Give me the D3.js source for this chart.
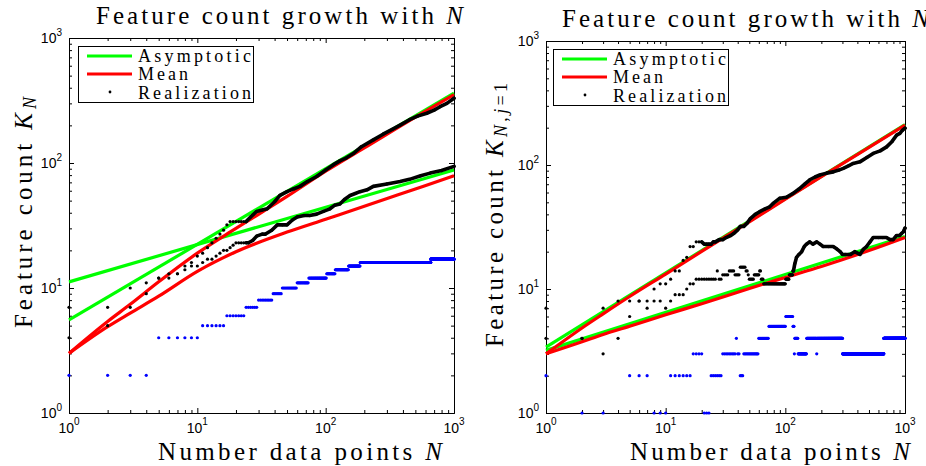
<!DOCTYPE html>
<html><head><meta charset="utf-8">
<script src="https://cdn.jsdelivr.net/npm/d3@7"></script>
<style>body{margin:0;background:#fff;} svg{display:block;}</style>
</head><body><svg id="c" width="926" height="466"></svg>
<script>
// ================= DATA =================
const decadeTicks = [1, 10, 100, 1000];
const tickExponents = ["0", "1", "2", "3"];
const legendLabels = ["Asymptotic", "Mean", "Realization"];

// ---- Left panel: K_N ----
const L_asymN  = [1, 1000];
const L_asymHi = [5.55, 363];
const L_asymLo = [11.2, 88];
const L_meanN  = [1, 2, 3, 5, 10, 20, 50, 100, 200, 500, 1000];
const L_meanHi = [3, 5.4, 7.4, 11.2, 19, 30, 54, 86, 132, 233, 352];
const L_meanLo = [3, 4.9, 6.3, 8.6, 13.6, 19.5, 28, 35.5, 45, 62, 79];
const L_realHiN = [1,2,3,4,5,6,7,8,9,10,11,12,13,14,15,16,17,18,19,20,21,22,23,24,26,29,32,35,40,44,50,56,63,72,85,100,115,129,145,164,190,235,280,330,380,450,520,614,700,779,880,1000];
const L_realHiK = [7,7,10,11,12,13,13,15,16,18,19,21,23,25,27,29,32,34,34,34,34,34,34,34,37,41,42,43,49,55,59,62,65,71,78,88,97,104,110,119,135,153,170,186,201,222,237,250,265,282,300,330];
const L_realLoN = [1,2,3,4,5,6,7,8,9,10,11,12,13,14,15,16,17,18,19,20,21,22,23,24,25,27,29,32,34,38,42,46,50,55,60,68,75,85,96,108,118,129,140,155,170,185,210,235,300,380,450,550,652,800,1000];
const L_realLoK = [4,5,7,9,12,12,13,14,15,15,16,17,17,18,19,20,20,21,22,23,23,23,23,23,23,24,26,27,27,29,32,32,32,35,37,38,38,39,41,43,46,47,51,55,57,59,61,65,68,71,74,79,83,87,94];
const L_blueStart = [1, 5, 11, 17, 24, 30, 39, 46, 60, 74, 102, 119, 151, 186, 660];
const L_blueVal   = [2, 4, 5, 6, 7, 8, 9, 10, 11, 12, 13, 14, 15, 16, 17];

// ---- Right panel: K_{N,j=1} ----
const R_asymN  = [1, 1000];
const R_asymHi = [3.4, 212];
const R_asymLo = [3.2, 26.5];
const R_meanN  = [1, 2, 3, 5, 10, 20, 50, 100, 200, 500, 1000];
const R_meanHi = [3, 4.85, 6.3, 8.7, 13.2, 20.1, 34.8, 53, 80.5, 139, 210];
const R_meanLo = [3, 3.75, 4.3, 5.0, 6.2, 7.6, 10.1, 12.4, 15.2, 20.4, 26];
const R_realHiN = [1,2,3,4,5,6,7,8,9,10,11,12,13,14,15,16,17,18,19,20,21,22,23,24,25,26,28,30,32,35,37,40,42,45,48,51,56,61,67,74,79,90,102,116,130,145,160,177,194,221,251,280,305,340,369,420,480,542,620,702,780,851,906,950,1000];
const R_realHiK = [7,4,7,8,8,8,8,10,11,11,12,14,14,17,18,22,22,24,24,24,23,23,23,23,24,24,25,25,26,27,28,30,32,32,34,37,40,42,44,46,49,54,55,59,64,70,76,80,83,86,88,91,94,99,103,106,115,124,130,140,155,174,180,190,198];
// lower right realization: runs of equal value for N = 1..117, then readings
const R_realLoRunStart = [1,3,4,5,6,7,8,10,11,12,15,16,18,27,28,30,34,38,42,47,49,50,55,61,63,66,101,108,116];
const R_realLoRunVal   = [4,3,4,6,8,7,8,7,8,9,10,11,12,14,12,13,14,13,15,14,13,12,13,14,12,11,12,13,14];
const R_realLoRunEnd = 117;
const R_realLoN = [120,124,130,137,144,150,160,170,183,195,207,230,251,270,287,300,316,350,380,420,450,477,510,542,600,653,700,750,795,850,900,935,970,1000];
const R_realLoK = [16,18,19,20,22,23,24,23,24,23,22,22,22,21,20,19,19,19,20,19,21,22,24,26,26,26,26,25,25,27,27,28,29,31];
const R_blueStart = [1, 2, 4, 5, 8, 11, 17, 21, 24, 30, 39, 40, 42, 45, 60, 73, 101, 116, 119, 120, 128, 151, 183, 184, 301, 666];
const R_blueVal   = [2, 1, 0, 2, 1, 2, 3, 1, 2, 3, 4, 3, 2, 3, 4, 5, 6, 5, 3, 4, 3, 4, 3, 4, 3, 4];

// ================= DRAWING =================
const GREEN = "#00ff00", RED = "#ff0000", BLUE = "#0000ff", BLACK = "#000000";
const SERIF = "'Liberation Serif', 'DejaVu Serif', serif";
const SANS = "'Liberation Sans', Arial, sans-serif";
const svg = d3.select("#c");

function fitWidth(t, target) {
  const w = t.node().getComputedTextLength();
  const n = t.text().length;
  if (n > 1) t.attr("letter-spacing", (target - w) / (n - 1));
}
function zip(a, b) { return a.map((v, i) => [v, b[i]]); }
function expandRuns(starts, vals, maxN) {
  const out = [];
  let r = 0;
  for (let n = 1; n <= maxN; n++) {
    while (r + 1 < starts.length && n >= starts[r + 1]) r++;
    if (vals[r] > 0) out.push([n, vals[r]]);
  }
  return out;
}

function panel(cfg) {
  const x = d3.scaleLog().domain([1, 1000]).range([cfg.x0, cfg.x1]);
  const y = d3.scaleLog().domain([1, 1000]).range([cfg.yb, cfg.yt]);
  const g = svg.append("g");

  const minor = [];
  [1, 10, 100].forEach(d => { for (let m = 2; m <= 9; m++) minor.push(m * d); });

  const axes = [
    [d3.axisBottom, `translate(0,${cfg.yb})`, x],
    [d3.axisTop, `translate(0,${cfg.yt})`, x],
    [d3.axisLeft, `translate(${cfg.x0},0)`, y],
    [d3.axisRight, `translate(${cfg.x1},0)`, y]
  ];
  axes.forEach(([fn, tr, sc]) => {
    g.append("g").attr("transform", tr)
      .call(fn(sc).tickValues(minor).tickSizeInner(-3).tickSizeOuter(0).tickFormat(""));
    g.append("g").attr("transform", tr)
      .call(fn(sc).tickValues(decadeTicks).tickSizeInner(-5).tickSizeOuter(0).tickFormat(""));
  });
  g.selectAll(".domain").attr("stroke", BLACK).attr("stroke-width", 1);
  g.selectAll(".tick line").attr("stroke", BLACK).attr("stroke-width", 1);

  // tick labels
  decadeTicks.forEach((v, i) => {
    const tx = g.append("text").attr("x", x(v)).attr("y", cfg.yb + 20)
      .attr("text-anchor", "middle").attr("font-family", SANS).attr("font-size", 14);
    tx.append("tspan").text("10");
    tx.append("tspan").attr("font-size", 10).attr("dy", -8).text(tickExponents[i]);
    const ty = g.append("text").attr("x", cfg.x0 - 7).attr("y", y(v) + 5)
      .attr("text-anchor", "end").attr("font-family", SANS).attr("font-size", 14);
    ty.append("tspan").text("10");
    ty.append("tspan").attr("font-size", 10).attr("dy", -7).text(tickExponents[i]);
  });

  const line = d3.line().x(d => x(d[0])).y(d => y(d[1]));
  const smooth = d3.line().x(d => x(d[0])).y(d => y(d[1])).curve(d3.curveMonotoneX);
  const curve = (pts, col, gen) => g.append("path").attr("d", gen(pts)).attr("fill", "none")
    .attr("stroke", col).attr("stroke-width", 3.2).attr("stroke-linecap", "butt");

  curve(zip(cfg.asymN, cfg.asymHi), GREEN, line);
  curve(zip(cfg.asymN, cfg.asymLo), GREEN, line);
  curve(zip(cfg.meanN, cfg.meanHi), RED, smooth);
  curve(zip(cfg.meanN, cfg.meanLo), RED, smooth);

  // blue realization
  g.append("g").selectAll("circle").data(expandRuns(cfg.blueStart, cfg.blueVal, 1000)).join("circle")
    .attr("cx", d => x(d[0])).attr("cy", d => y(d[1])).attr("r", 1.6).attr("fill", BLUE);

  // black realizations
  cfg.real.forEach(({ pts, denseFrom }) => {
    const dense = pts.filter(d => d[0] >= denseFrom);
    g.append("path").attr("d", line(dense)).attr("fill", "none").attr("stroke", BLACK)
      .attr("stroke-width", 3.6).attr("stroke-linejoin", "round").attr("stroke-linecap", "round");
    g.append("g").selectAll("circle").data(pts).join("circle")
      .attr("cx", d => x(d[0])).attr("cy", d => y(d[1])).attr("r", 1.6).attr("fill", BLACK);
  });

  // title
  const tt = g.append("text").attr("x", cfg.title[0]).attr("y", cfg.title[1])
    .attr("font-family", SERIF).attr("font-size", 25).attr("fill", BLACK);
  tt.append("tspan").text("Feature count growth with ");
  tt.append("tspan").attr("font-style", "italic").text("N");
  fitWidth(tt, cfg.title[2]);

  // x label
  const xl = g.append("text").attr("x", cfg.xlab[0]).attr("y", cfg.xlab[1])
    .attr("font-family", SERIF).attr("font-size", 25).attr("fill", BLACK);
  xl.append("tspan").text("Number data points ");
  xl.append("tspan").attr("font-style", "italic").text("N");
  fitWidth(xl, cfg.xlab[2]);

  // y label
  const yl = g.append("text").attr("transform", `translate(${cfg.ylab[0]},${cfg.ylab[1]}) rotate(-90)`)
    .attr("font-family", SERIF).attr("font-size", 25).attr("fill", BLACK);
  yl.append("tspan").text("Feature count ");
  yl.append("tspan").attr("font-style", "italic").text("K");
  cfg.ysub(yl);
  fitWidth(yl, cfg.ylab[2]);

  // legend
  const [lx, ly] = cfg.legend;
  const lg = g.append("g").attr("transform", `translate(${lx},${ly})`);
  lg.append("rect").attr("x", 0.5).attr("y", 0.5).attr("width", 175).attr("height", 56)
    .attr("fill", "#fff").attr("stroke", BLACK).attr("stroke-width", 1);
  lg.append("line").attr("x1", 9).attr("x2", 54).attr("y1", 10).attr("y2", 10)
    .attr("stroke", GREEN).attr("stroke-width", 3.2);
  lg.append("line").attr("x1", 9).attr("x2", 54).attr("y1", 28).attr("y2", 28)
    .attr("stroke", RED).attr("stroke-width", 3.2);
  lg.append("circle").attr("cx", 32).attr("cy", 46).attr("r", 1.4).attr("fill", BLACK);
  const widths = [113, 50, 113];
  const bases = [15.5, 34, 52.5];
  legendLabels.forEach((s, i) => {
    const t = lg.append("text").attr("x", 60).attr("y", bases[i]).attr("font-family", SERIF)
      .attr("font-size", 18).attr("fill", BLACK).text(s);
    fitWidth(t, widths[i]);
  });
}

panel({
  x0: 69, x1: 454, yb: 413, yt: 38,
  asymN: L_asymN, asymHi: L_asymHi, asymLo: L_asymLo,
  meanN: L_meanN, meanHi: L_meanHi, meanLo: L_meanLo,
  real: [
    { pts: zip(L_realHiN, L_realHiK), denseFrom: 24 },
    { pts: zip(L_realLoN, L_realLoK), denseFrom: 24 }
  ],
  blueStart: L_blueStart, blueVal: L_blueVal,
  title: [96, 24, 367], xlab: [158, 460, 284], ylab: [32, 328, 231],
  ysub: t => { t.append("tspan").attr("font-style", "italic").attr("font-size", 18).attr("dy", 4).text("N"); },
  legend: [78, 46]
});

panel({
  x0: 546, x1: 905, yb: 413, yt: 41,
  asymN: R_asymN, asymHi: R_asymHi, asymLo: R_asymLo,
  meanN: R_meanN, meanHi: R_meanHi, meanLo: R_meanLo,
  real: [
    { pts: zip(R_realHiN, R_realHiK), denseFrom: 20 },
    { pts: expandRuns(R_realLoRunStart, R_realLoRunVal, R_realLoRunEnd).concat(zip(R_realLoN, R_realLoK)), denseFrom: 116 }
  ],
  blueStart: R_blueStart, blueVal: R_blueVal,
  title: [562, 27, 367], xlab: [630, 460, 280], ylab: [503, 347, 264],
  ysub: t => {
    t.append("tspan").attr("font-style", "italic").attr("font-size", 18).attr("dy", 4).text("N");
    t.append("tspan").attr("font-size", 18).text(",");
    t.append("tspan").attr("font-style", "italic").attr("font-size", 18).text("j");
    t.append("tspan").attr("font-size", 18).text("=1");
  },
  legend: [553, 49]
});
</script>
</body></html>
